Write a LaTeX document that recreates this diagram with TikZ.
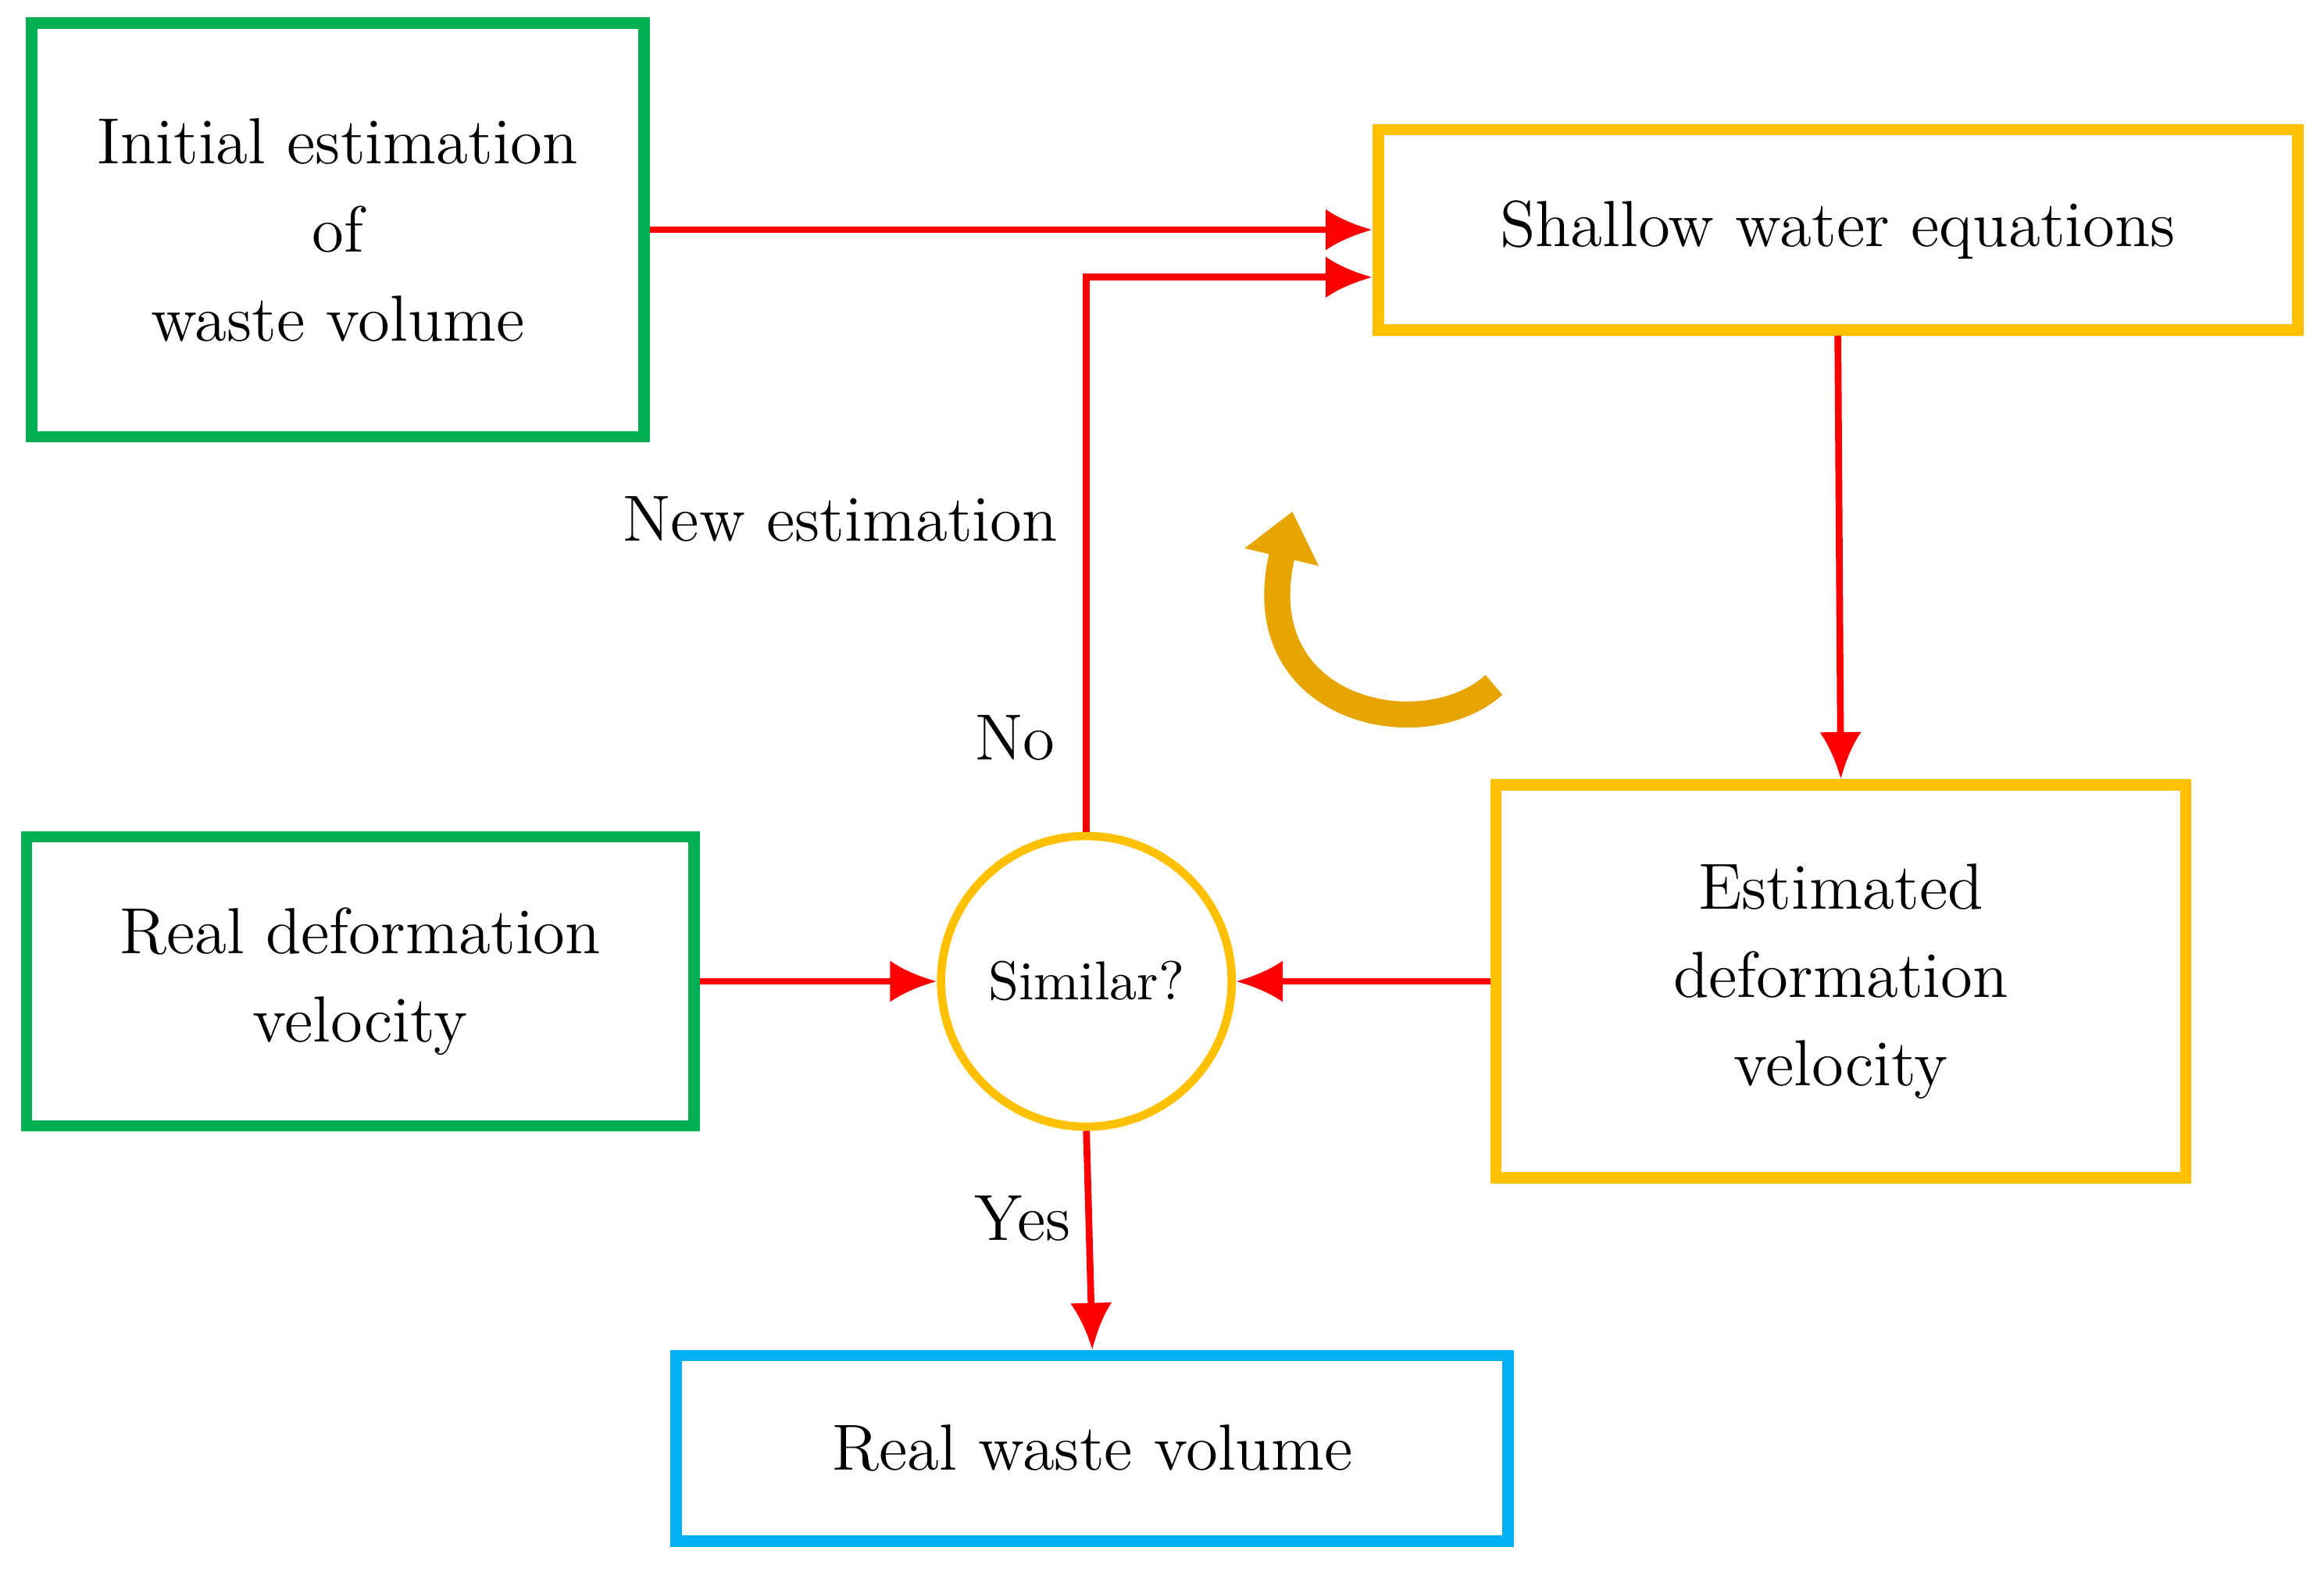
\documentclass[tikz,border=0pt]{standalone}
\usepackage{tikz}
\usetikzlibrary{arrows.meta,positioning}
\definecolor{boxgreen}{RGB}{0,176,80}
\definecolor{boxyellow}{RGB}{255,192,0}
\definecolor{boxblue}{RGB}{0,176,240}
\definecolor{loopgold}{RGB}{230,165,0}
\begin{document}
\begin{tikzpicture}[x=0.01cm,y=-0.01cm,>=Latex,
	box/.style={draw,line width=2.2pt,align=center,inner sep=0pt,font=\fontsize{12.5}{17}\selectfont},
	flow/.style={red,line width=1.3pt,-{Latex[length=9pt,width=8pt]}},
	lbl/.style={font=\fontsize{12.5}{17}\selectfont}]
	\useasboundingbox (0,0) rectangle (1568,1060);
	% The boxes
	\node[box,draw=boxgreen,minimum width=4.13cm,minimum height=2.79cm] (init) at (228,155) {Initial estimation\\of\\waste volume};
	\node[box,draw=boxyellow,minimum width=6.2cm,minimum height=1.35cm] (swe) at (1240,155) {Shallow water equations};
	\node[box,draw=boxyellow,minimum width=4.65cm,minimum height=2.65cm] (est) at (1242,662) {Estimated\\deformation\\velocity};
	\node[box,draw=boxgreen,minimum width=4.5cm,minimum height=1.95cm] (real) at (243,662) {Real deformation\\velocity};
	\node[box,draw=boxblue,minimum width=5.61cm,minimum height=1.25cm] (vol) at (737,977) {Real waste volume};
	\node[circle,draw=boxyellow,line width=1.6pt,minimum size=1.96cm,inner sep=0pt,font=\fontsize{10.5}{12}\selectfont] (sim) at (733,662) {Similar?};
	\coordinate (corner) at (733,187);
	\coordinate (swein) at (swe.west |- corner);
	% The connectors
	\draw[flow] (init.east) -- (swe.west);
	\draw[flow] (sim.north) -- (corner) -- (swein);
	\draw[flow] (swe.south) -- (est.north);
	\draw[flow] (est.west) -- (sim.east);
	\draw[flow] (real.east) -- (sim.west);
	\draw[flow] (sim.south) -- (vol.north);
	% The labels
	\node[lbl,left=2pt of corner,yshift=-1.63cm] (newest) {New estimation};
	\node[lbl] (no) at (685,498) {No};
	\node[lbl] (yes) at (690,822) {Yes};
	% The loop arrow
	\draw[loopgold,line width=5pt,-{Triangle[length=9pt,width=14pt]}] (1008,462) .. controls (960,505) and (840,480) .. (872,345);
\end{tikzpicture}
\end{document}
